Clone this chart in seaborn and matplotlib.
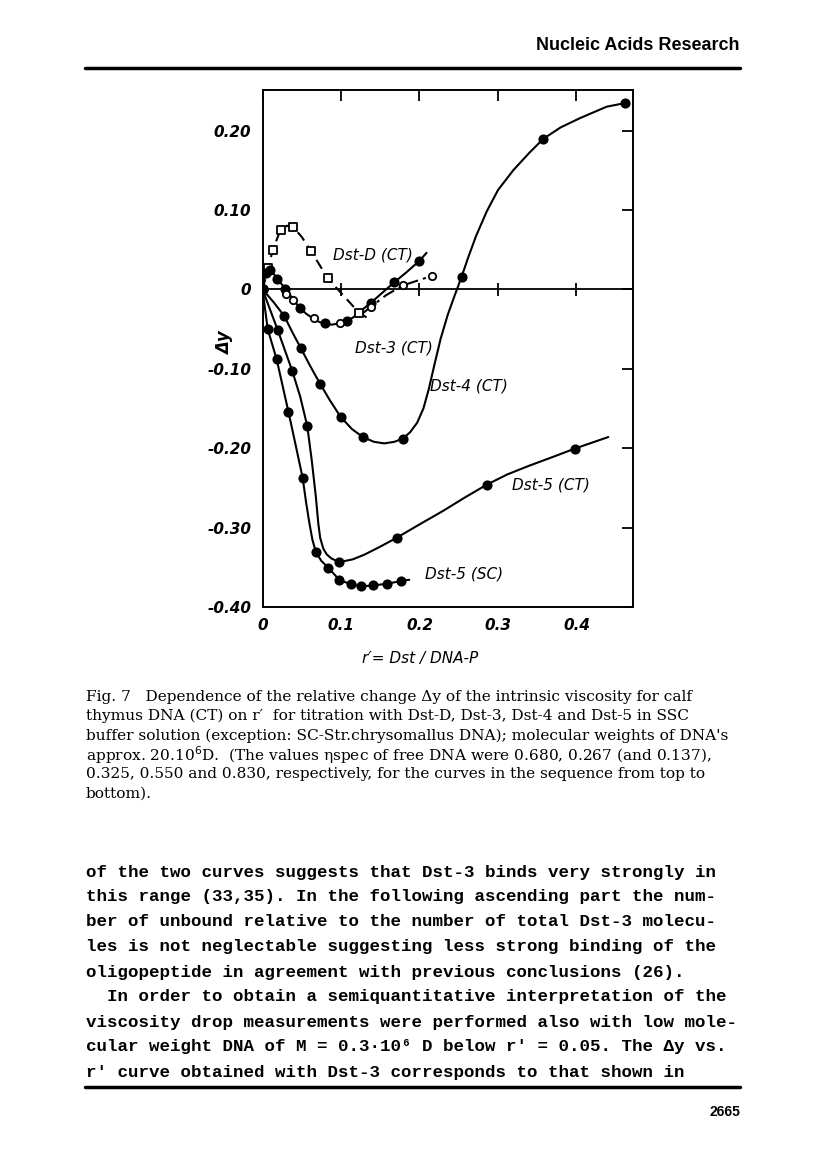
import numpy as np
import pandas as pd
import matplotlib
matplotlib.use("Agg")
import matplotlib.pyplot as plt
import seaborn as sns

# Dst-D (CT): open squares, dashed
dstD_x = [0.0074, 0.013, 0.023, 0.0385, 0.062, 0.083, 0.123]
dstD_y = [0.027, 0.0496, 0.075, 0.079, 0.048, 0.014, -0.0295]
dstD_line_x = [0.0, 0.0074, 0.013, 0.023, 0.031, 0.0385, 0.05, 0.062, 0.083, 0.123, 0.137]
dstD_line_y = [0.0, 0.027, 0.0496, 0.075, 0.080, 0.079, 0.066, 0.048, 0.014, -0.0295, -0.038]

# Dst-3 (CT), filled circles
dst3_x = [0.0, 0.004, 0.009, 0.019, 0.029, 0.048, 0.079, 0.108, 0.138, 0.168, 0.200]
dst3_y = [0.0, 0.020, 0.024, 0.013, 0.001, -0.024, -0.043, -0.040, -0.017, 0.009, 0.036]
dst3_line_x = [0.0, 0.004, 0.009, 0.014, 0.019, 0.029, 0.039, 0.048, 0.056, 0.065, 0.072, 0.079,
               0.088, 0.097, 0.108, 0.116, 0.123, 0.138, 0.153, 0.168, 0.184, 0.200, 0.209]
dst3_line_y = [0.0, 0.020, 0.024, 0.020, 0.013, 0.001, -0.0125, -0.024, -0.031, -0.037, -0.041, -0.043,
               -0.0445, -0.043, -0.040, -0.035, -0.029, -0.017, -0.004, 0.009, 0.022, 0.036, 0.046]
# Dst-3 (CT), open circles (second concentration)
dst3b_x = [0.0295, 0.039, 0.065, 0.099, 0.138, 0.179, 0.216]
dst3b_y = [-0.006, -0.0135, -0.0366, -0.043, -0.022, 0.005, 0.017]
dst3b_branch_x = [0.128, 0.138, 0.158, 0.179, 0.216]
dst3b_branch_y = [-0.030, -0.022, -0.007, 0.005, 0.017]

# Dst-4 (CT)
dst4_x = [0.0, 0.0278, 0.049, 0.0732, 0.0996, 0.128, 0.1786, 0.2537, 0.3577, 0.4618]
dst4_y = [0.0, -0.0337, -0.0744, -0.1186, -0.1607, -0.186, -0.188, 0.016, 0.1895, 0.2345]
dst4_line_x = [0.0, 0.014, 0.0278, 0.038, 0.049, 0.061, 0.0732, 0.086, 0.0996, 0.114, 0.128,
               0.142, 0.155, 0.168, 0.1786, 0.188, 0.197, 0.205, 0.212, 0.219, 0.227, 0.236,
               0.244, 0.2537, 0.262, 0.272, 0.2856, 0.30, 0.3195, 0.34, 0.3577, 0.38, 0.4045,
               0.4385, 0.4618]
dst4_line_y = [0.0, -0.016, -0.0337, -0.054, -0.0744, -0.097, -0.1186, -0.140, -0.1607, -0.176, -0.186,
               -0.192, -0.194, -0.192, -0.188, -0.180, -0.168, -0.150, -0.125, -0.095, -0.062, -0.032,
               -0.010, 0.016, 0.040, 0.067, 0.098, 0.125, 0.150, 0.172, 0.1895, 0.204, 0.2156,
               0.230, 0.2345]

# Dst-5 (CT)
dst5ct_x = [0.0, 0.0194, 0.038, 0.057, 0.0978, 0.171, 0.2856, 0.398]
dst5ct_y = [0.0, -0.0513, -0.103, -0.172, -0.3435, -0.3128, -0.246, -0.2005]
dst5ct_line_x = [0.0, 0.0194, 0.038, 0.048, 0.057, 0.0627, 0.068, 0.0711, 0.0735, 0.0775, 0.082, 0.088,
                 0.0978, 0.115, 0.13, 0.15, 0.171, 0.20, 0.23, 0.258, 0.2856, 0.312, 0.34, 0.37,
                 0.398, 0.4405]
dst5ct_line_y = [0.0, -0.0513, -0.103, -0.135, -0.172, -0.215, -0.2615, -0.295, -0.313, -0.3266, -0.334, -0.339,
                 -0.3435, -0.340, -0.334, -0.324, -0.3128, -0.296, -0.279, -0.262, -0.246, -0.233, -0.222, -0.211,
                 -0.2005, -0.186]

# Dst-5 (SC)
dst5sc_x = [0.0, 0.0066, 0.018, 0.033, 0.0512, 0.068, 0.0838, 0.0978, 0.1127, 0.1255, 0.1404, 0.158, 0.176]
dst5sc_y = [0.0, -0.050, -0.088, -0.154, -0.2376, -0.331, -0.3506, -0.3657, -0.3716, -0.374, -0.3729, -0.3708, -0.3674]
dst5sc_line_x = [0.0, 0.0066, 0.018, 0.033, 0.042, 0.0512, 0.0555, 0.0595, 0.0635, 0.068, 0.075, 0.0838,
                 0.0978, 0.1127, 0.1255, 0.1404, 0.158, 0.176, 0.187]
dst5sc_line_y = [0.0, -0.050, -0.088, -0.154, -0.195, -0.2376, -0.268, -0.293, -0.315, -0.331, -0.342, -0.3506,
                 -0.3657, -0.3716, -0.374, -0.3729, -0.3708, -0.3674, -0.3657]

x_ticks = [0.0, 0.1, 0.2, 0.3, 0.4]
x_ticklabels = ["0", "0.1", "0.2", "0.3", "0.4"]
y_ticks = [0.20, 0.10, 0.0, -0.10, -0.20, -0.30, -0.40]
y_ticklabels = ["0.20", "0.10", "0", "-0.10", "-0.20", "-0.30", "-0.40"]

curve_labels = ["Dst-D (CT)", "Dst-3 (CT)", "Dst-4 (CT)", "Dst-5 (CT)", "Dst-5 (SC)"]
label_x = [0.090, 0.118, 0.213, 0.318, 0.207]
label_y = [0.043, -0.074, -0.122, -0.247, -0.358]

caption = [
    "Fig. 7   Dependence of the relative change \u0394y of the intrinsic viscosity for calf",
    "thymus DNA (CT) on r\u2032  for titration with Dst-D, Dst-3, Dst-4 and Dst-5 in SSC",
    "buffer solution (exception: SC-Str.chrysomallus DNA); molecular weights of DNA's",
    "approx. 20.10$^6$D.  (The values \u03b7spec of free DNA were 0.680, 0.267 (and 0.137),",
    "0.325, 0.550 and 0.830, respectively, for the curves in the sequence from top to",
    "bottom).",
]
body = [
    "of the two curves suggests that Dst-3 binds very strongly in",
    "this range (33,35). In the following ascending part the num-",
    "ber of unbound relative to the number of total Dst-3 molecu-",
    "les is not neglectable suggesting less strong binding of the",
    "oligopeptide in agreement with previous conclusions (26).",
    "  In order to obtain a semiquantitative interpretation of the",
    "viscosity drop measurements were performed also with low mole-",
    "cular weight DNA of M = 0.3\u00b710\u2076 D below r' = 0.05. The \u0394y vs.",
    "r' curve obtained with Dst-3 corresponds to that shown in",
]

sns.set_style("white")
plt.rcParams['font.family'] = ['DejaVu Sans']
plt.rcParams['text.color'] = 'black'
plt.rcParams['axes.labelcolor'] = 'black'
plt.rcParams['xtick.color'] = 'black'
plt.rcParams['ytick.color'] = 'black'

W, H = 816, 1174
fig = plt.figure(figsize=(W / 100, H / 100), dpi=100)
ax = fig.add_axes([262.5 / W, 1 - 607 / H, (633 - 262.5) / W, (607 - 90) / H])

lw = 1.5
ms = 36

def line(xs, ys, **kw):
    df = pd.DataFrame({"x": xs, "y": ys})
    sns.lineplot(data=df, x="x", y="y", sort=False, estimator=None, ax=ax,
                 color="black", linewidth=lw, **kw)

def pts(xs, ys, filled=True, marker="o", size=ms):
    df = pd.DataFrame({"x": xs, "y": ys})
    sns.scatterplot(data=df, x="x", y="y", ax=ax, marker=marker, s=size,
                    facecolor="black" if filled else "white",
                    edgecolor="black", linewidth=1.3, zorder=5)

line(dstD_line_x, dstD_line_y, linestyle=(0, (5, 3)))
pts(dstD_x, dstD_y, filled=False, marker="s", size=36)

line(dst3_line_x, dst3_line_y)
line(dst3b_branch_x, dst3b_branch_y, linestyle=(0, (6, 2.5, 1.5, 2.5)))
pts(dst3_x, dst3_y)
pts(dst3b_x, dst3b_y, filled=False, size=28)

line(dst4_line_x, dst4_line_y)
pts(dst4_x, dst4_y)

line(dst5ct_line_x, dst5ct_line_y)
pts(dst5ct_x, dst5ct_y)

line(dst5sc_line_x, dst5sc_line_y)
pts(dst5sc_x, dst5sc_y)

# zero line with small crossing ticks
ax.axhline(0, color="black", lw=1.3, zorder=1)
ax.vlines(x_ticks[1:], -0.008, 0.008, color="black", lw=1.3)

ax.set_xlim(0, 0.472)
ax.set_ylim(-0.40, 0.251)
ax.set_xticks(x_ticks)
ax.set_xticklabels(x_ticklabels)
ax.set_yticks(y_ticks)
ax.set_yticklabels(y_ticklabels)
ax.tick_params(direction="in", length=8, width=1.3, top=True, right=True,
               labelsize=11, pad=8)
for t in ax.get_xticklabels() + ax.get_yticklabels():
    t.set_fontstyle("italic")
    t.set_fontweight("bold")
for s in ax.spines.values():
    s.set_linewidth(1.4)
    s.set_color("black")
ax.set_xlabel("r\u2032= Dst / DNA-P", fontsize=11, fontstyle="italic")
ax.xaxis.set_label_coords(0.425, -0.086)
ax.set_ylabel("\u0394y", fontsize=12, fontstyle="italic", fontweight="bold")
ax.yaxis.set_label_coords(-0.077, 0.51)

for txt, lx, ly in zip(curve_labels, label_x, label_y):
    ax.text(lx, ly, txt, fontsize=11, fontstyle="italic", va="center", ha="left")

# page furniture
fig.text(740 / W, 1 - 45 / H, "Nucleic Acids Research", ha="right", va="center",
         fontsize=13, fontweight="bold", family="Liberation Sans")
fig.add_artist(plt.Line2D([85 / W, 740 / W], [1 - 68 / H] * 2, color="black", lw=2.5))

for i, s in enumerate(caption):
    fig.text(86 / W, 1 - (697 + 19.3 * i) / H, s, ha="left", va="center",
             fontsize=11.1, family="DejaVu Serif")

for i, s in enumerate(body):
    fig.text(86 / W, 1 - (872 + 25 * i) / H, s, ha="left", va="center",
             fontsize=12.6, fontweight="bold", family=["Liberation Mono", "DejaVu Sans Mono"])

fig.add_artist(plt.Line2D([85 / W, 740 / W], [1 - 1087 / H] * 2, color="black", lw=2.5))
fig.text(740 / W, 1 - 1112 / H, "2665", ha="right", va="center",
         fontsize=10, fontweight="bold", family="Liberation Sans")

fig.savefig("out.png", dpi=100)
